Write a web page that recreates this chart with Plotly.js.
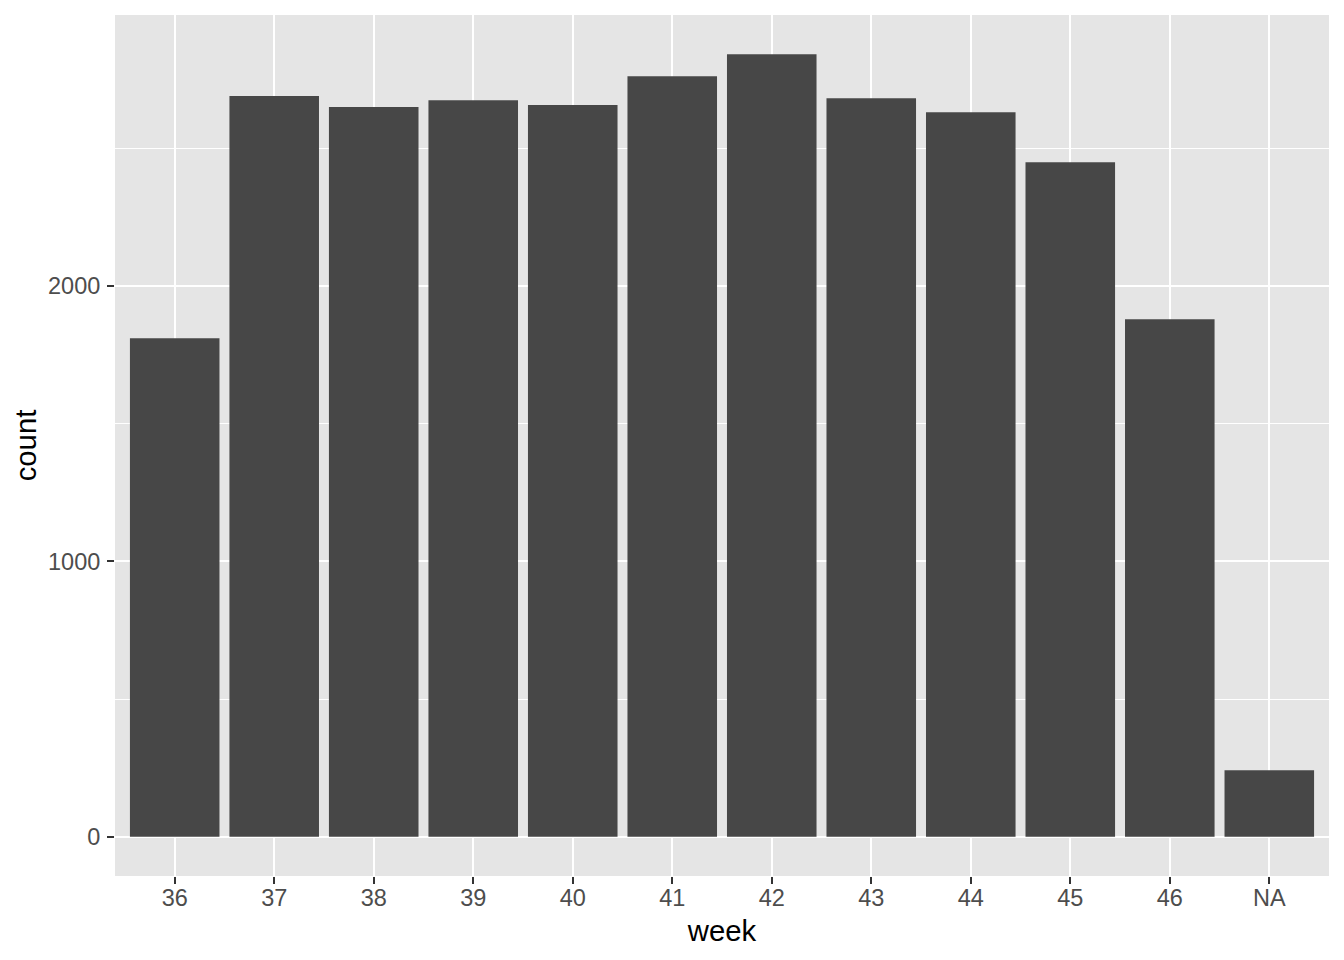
<!DOCTYPE html>
<html>
<head>
<meta charset="utf-8">
<script src="https://cdn.plot.ly/plotly-3.0.1.min.js"></script>
<style>html,body{margin:0;padding:0;background:#fff;}#chart{width:1344px;height:960px;}</style>
</head>
<body>
<div id="chart"></div>
<script>
const weeks = ["36","37","38","39","40","41","42","43","44","45","46","NA"];
const counts = [1810, 2689, 2649, 2674, 2656, 2761, 2841, 2681, 2630, 2449, 1879, 242];
const yTickVals = [0, 1000, 2000];
const yTickText = ["0", "1000", "2000"];

const maxCount = Math.max(...counts);
const trace = {
  type: 'bar',
  x: weeks,
  y: counts,
  marker: {color: '#474747', line: {width: 0}},
  hoverinfo: 'x+y'
};
const layout = {
  width: 1344, height: 960,
  margin: {l: 115, r: 15, t: 15, b: 84},
  paper_bgcolor: '#ffffff',
  plot_bgcolor: '#e5e5e5',
  bargap: 0.1,
  showlegend: false,
  font: {family: 'Liberation Sans, Arial, Helvetica, sans-serif', color: '#000000'},
  xaxis: {
    type: 'category',
    range: [-0.6, weeks.length - 0.4],
    showgrid: true, gridcolor: '#ffffff', gridwidth: 2,
    zeroline: false, showline: false,
    ticks: 'outside', ticklen: 7, tickwidth: 2, tickcolor: '#333333',
    tickfont: {size: 23.5, color: '#4d4d4d'},
    ticklabelstandoff: -6,
    title: {text: 'week', font: {size: 29.3, color: '#000000'}, standoff: 10}
  },
  yaxis: {
    range: [-0.05 * maxCount, 1.05 * maxCount],
    tickvals: yTickVals, ticktext: yTickText,
    showgrid: true, gridcolor: '#ffffff', gridwidth: 2,
    minor: {dtick: 500, tick0: 500, showgrid: true, gridcolor: '#ffffff', gridwidth: 1, ticks: ''},
    zeroline: false, showline: false,
    ticks: 'outside', ticklen: 7, tickwidth: 2, tickcolor: '#333333',
    tickfont: {size: 23.5, color: '#4d4d4d'},
    ticklabelstandoff: 2,
    title: {text: 'count', font: {size: 29.3, color: '#000000'}, standoff: 2}
  }
};
Plotly.newPlot('chart', [trace], layout, {displayModeBar: false, staticPlot: true});
</script>
</body>
</html>
